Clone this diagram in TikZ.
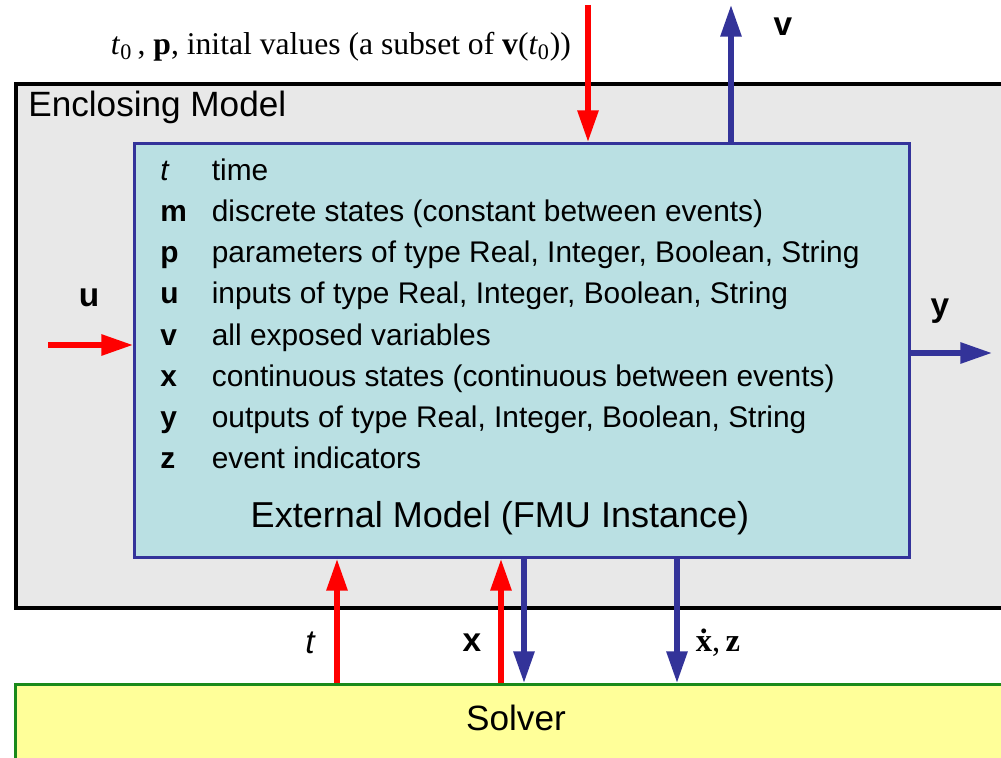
\documentclass[tikz,border=0pt]{standalone}
\usepackage{fontspec}
\setmainfont{Liberation Serif}
\setsansfont{Liberation Sans}
\usetikzlibrary{arrows.meta}
\definecolor{enclgray}{HTML}{E8E8E8}
\definecolor{fmucyan}{HTML}{BAE0E3}
\definecolor{fmublue}{HTML}{33339A}
\definecolor{arrowblue}{HTML}{333399}
\definecolor{solveryellow}{HTML}{FFFF99}
\definecolor{solvergreen}{HTML}{1A8A1A}

\begin{document}
\begin{tikzpicture}[
    enclosing/.style={draw=black, line width=2.3pt, fill=enclgray, anchor=north west, inner sep=0pt},
    fmu/.style={draw=fmublue, line width=1.7pt, fill=fmucyan, anchor=north west, inner sep=0pt},
    solver/.style={draw=solvergreen, line width=1.6pt, fill=solveryellow, anchor=north west, inner sep=0pt},
    title/.style={font=\sffamily\fontsize{20}{24}\selectfont},
    sym/.style={anchor=base west, inner sep=0pt, font=\sffamily\bfseries\fontsize{17}{20}\selectfont},
    desc/.style={anchor=base west, inner sep=0pt, font=\sffamily\fontsize{17}{20}\selectfont},
    signal/.style={font=\sffamily\bfseries\fontsize{19}{22}\selectfont},
    inflow/.style={-{Triangle[length=18pt, width=11.5pt]}, line width=3pt, red},
    outflow/.style={-{Triangle[length=18pt, width=11.5pt]}, line width=3pt, arrowblue}
]
\useasboundingbox (0,0) rectangle (20.02,15.14);
\clip (0,0) rectangle (20.02,15.14);

\node[enclosing, minimum width=20.6cm, minimum height=10.48cm] (encl) at (0.28,13.5) {};
\node[title, anchor=west, inner sep=0pt] (encl-title) at (0.56,13.0) {Enclosing Model};

\node[fmu, minimum width=15.5cm, minimum height=8.28cm] (fmu) at (2.66,12.3) {};
\node[title, font=\sffamily\fontsize{20.5}{24}\selectfont] (fmu-title) at (10.0,4.78) {External Model (FMU Instance)};

\node[sym, font=\sffamily\itshape\fontsize{17}{20}\selectfont] (sym-t) at (3.2,11.54) {t};
\node[desc] (desc-t) at (4.23,11.54) {time};
\node[sym] (sym-m) at (3.2,10.715) {m};
\node[desc] (desc-m) at (4.23,10.715) {discrete states (constant between events)};
\node[sym] (sym-p) at (3.2,9.89) {p};
\node[desc] (desc-p) at (4.23,9.89) {parameters of type Real, Integer, Boolean, String};
\node[sym] (sym-u) at (3.2,9.065) {u};
\node[desc] (desc-u) at (4.23,9.065) {inputs of type Real, Integer, Boolean, String};
\node[sym] (sym-v) at (3.2,8.24) {v};
\node[desc] (desc-v) at (4.23,8.24) {all exposed variables};
\node[sym] (sym-x) at (3.2,7.415) {x};
\node[desc] (desc-x) at (4.23,7.415) {continuous states (continuous between events)};
\node[sym] (sym-y) at (3.2,6.59) {y};
\node[desc] (desc-y) at (4.23,6.59) {outputs of type Real, Integer, Boolean, String};
\node[sym] (sym-z) at (3.2,5.765) {z};
\node[desc] (desc-z) at (4.23,5.765) {event indicators};

\node[solver, minimum width=20.6cm, minimum height=2.5cm] (solver) at (0.28,1.48) {};
\node[font=\sffamily\fontsize{20}{24}\selectfont] (solver-title) at (10.32,0.78) {Solver};

\node[font=\fontsize{18}{22}\selectfont] (init-label) at (6.82,14.2)
    {\textit{t}\textsubscript{0}\,, \textbf{p}, inital values (a subset of \textbf{v}(\textit{t}\textsubscript{0}))};
\coordinate (init-src) at (11.76,15.04);
\draw[inflow] (init-src) -- (init-src |- fmu.north);

\coordinate (v-dst) at (14.62,15.04);
\draw[outflow] (v-dst |- fmu.north) -- (v-dst);
\node[signal] (v-label) at (15.66,14.6) {v};

\coordinate (u-src) at (0.96,8.24);
\draw[inflow] (u-src) -- (u-src -| fmu.west);
\node[signal] (u-label) at (1.78,9.18) {u};

\coordinate (y-dst) at (19.84,8.08);
\draw[outflow] (y-dst -| fmu.east) -- (y-dst);
\node[signal] (y-label) at (18.8,8.92) {y};

\coordinate (t-col) at (6.74,0);
\draw[inflow] (t-col |- solver.north) -- (t-col |- fmu.south);
\node[signal, font=\sffamily\itshape\fontsize{19}{22}\selectfont] (t-label) at (6.2,2.28) {t};

\coordinate (x-col) at (10.02,0);
\draw[inflow] (x-col |- solver.north) -- (x-col |- fmu.south);
\node[signal] (x-label) at (9.44,2.28) {x};

\coordinate (xdot-col) at (10.48,0);
\draw[outflow] (xdot-col |- fmu.south) -- (xdot-col |- solver.north);

\coordinate (z-col) at (13.54,0);
\draw[outflow] (z-col |- fmu.south) -- (z-col |- solver.north);
\node[font=\fontsize{18.5}{22}\selectfont] (z-label) at (14.36,2.28) {\textbf{\.x},\,\textbf{z}};
\end{tikzpicture}
\end{document}
